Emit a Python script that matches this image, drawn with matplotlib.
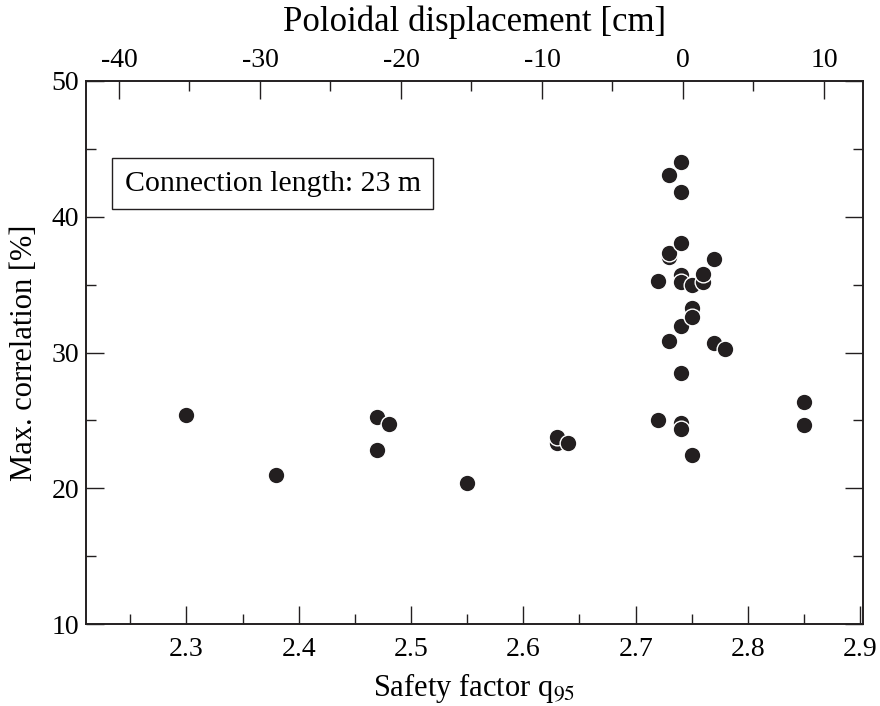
import matplotlib
matplotlib.use('Agg')
from matplotlib import pyplot as plt
from matplotlib.ticker import MultipleLocator

plt.rcParams['font.family'] = ['Liberation Serif', 'DejaVu Serif']
plt.rcParams['mathtext.fontset'] = 'stix'
plt.rcParams['axes.unicode_minus'] = False

# safety factor q95 and max. correlation [%] for each discharge
q95 = [2.30, 2.38, 2.47, 2.47, 2.48, 2.55, 2.63, 2.63, 2.64,
       2.72, 2.72, 2.73, 2.73, 2.73, 2.73,
       2.74, 2.74, 2.74, 2.74, 2.74, 2.74, 2.74, 2.74, 2.74,
       2.75, 2.75, 2.75, 2.75, 2.76, 2.76, 2.77, 2.77, 2.78,
       2.85, 2.85]
corr = [25.4, 21.0, 25.25, 22.8, 24.7, 20.4, 23.3, 23.8, 23.3,
        25.0, 35.3, 43.1, 37.0, 37.3, 30.85,
        44.0, 41.8, 38.1, 35.7, 35.2, 31.95, 28.5, 24.8, 24.4,
        34.95, 33.3, 32.6, 22.45, 35.2, 35.75, 36.9, 30.7, 30.25,
        26.35, 24.65]

fig = plt.figure(figsize=(8.8, 7.06), dpi=100)
ax = fig.add_axes([0.0977, 0.1161, 0.883, 0.7692])

ax.scatter(q95, corr, s=145, c='#231f20', edgecolors='white',
           linewidths=1.0, zorder=3)

ax.set_xlim(2.2105, 2.9025)
ax.set_ylim(10, 50)
ax.xaxis.set_major_locator(MultipleLocator(0.1))
ax.xaxis.set_minor_locator(MultipleLocator(0.05))
ax.yaxis.set_major_locator(MultipleLocator(10))
ax.yaxis.set_minor_locator(MultipleLocator(5))
ax.tick_params(which='both', direction='in', right=True, labelsize=20,
               color='#231f20', width=1.0)
ax.tick_params(which='major', length=13)
ax.tick_params(which='minor', length=7)
ax.tick_params(axis='x', pad=9)
ax.tick_params(axis='y', pad=5)
ax.set_xlabel('Safety factor q$_{\\rm 95}$', fontsize=22, labelpad=7)
ax.set_ylabel('Max. correlation [%]', fontsize=22, labelpad=9)

# top axis: poloidal displacement
ax2 = ax.twiny()
ax2.set_xlim(-42.34, 12.77)
ax2.xaxis.set_major_locator(MultipleLocator(10))
ax2.xaxis.set_minor_locator(MultipleLocator(5))
ax2.tick_params(which='both', direction='in', labelsize=20,
                color='#231f20', width=1.0, pad=6)
ax2.tick_params(which='major', length=13)
ax2.tick_params(which='minor', length=7)
ax2.set_xlabel('Poloidal displacement [cm]', fontsize=25, labelpad=12)

for a in (ax, ax2):
    for sp in a.spines.values():
        sp.set_linewidth(1.2)
        sp.set_color('#231f20')

ax.text(0.05, 0.811, 'Connection length: 23 m', transform=ax.transAxes,
        fontsize=21.5, va='center', ha='left',
        bbox=dict(boxstyle='square,pad=0.42', fc='white', ec='#231f20', lw=1.0))

fig.savefig('out.png', dpi=100)
